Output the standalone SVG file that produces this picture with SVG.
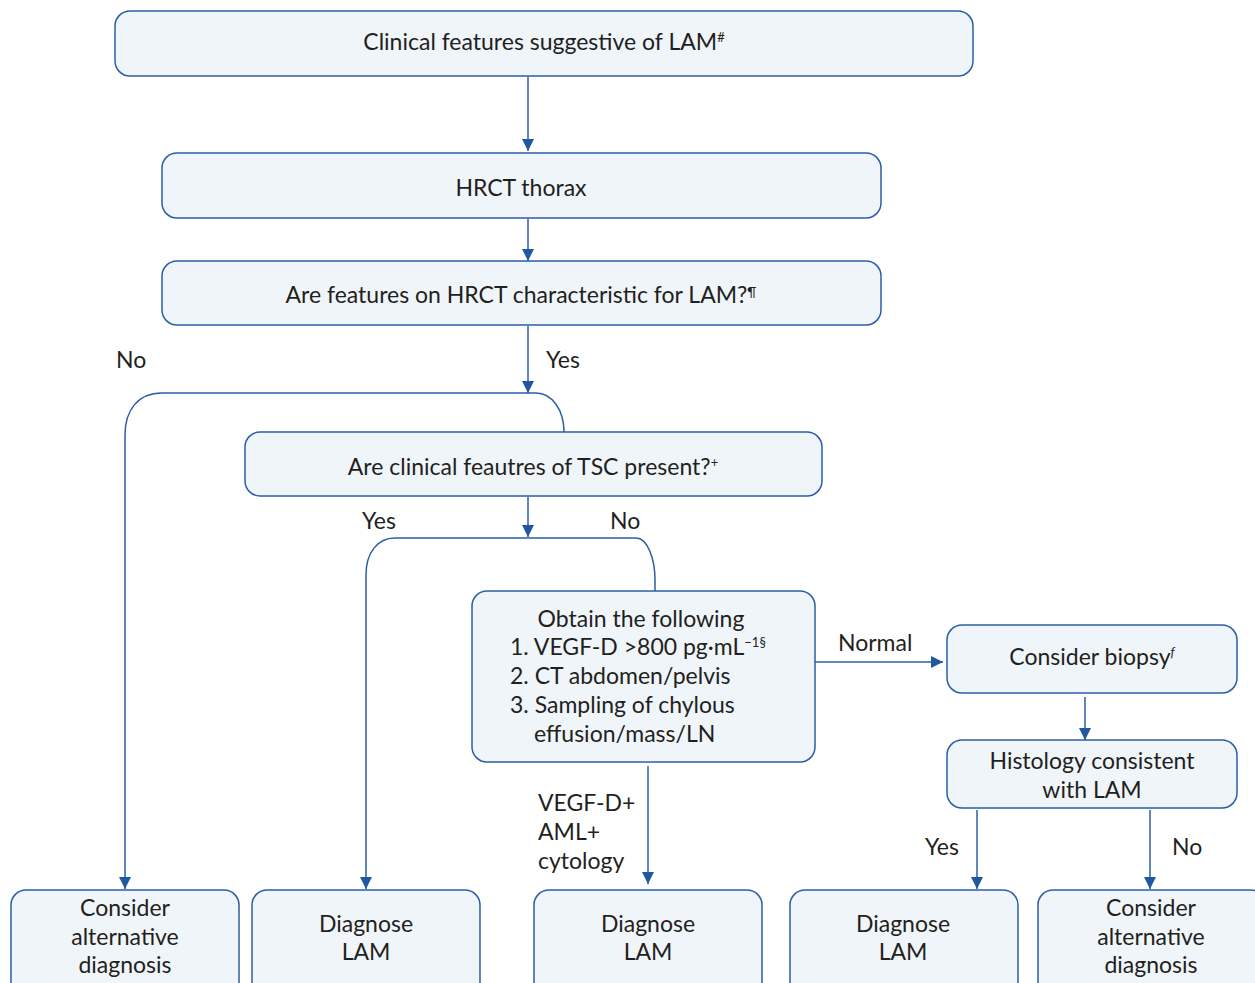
<svg xmlns="http://www.w3.org/2000/svg" width="1255" height="983" viewBox="0 0 1255 983">
<defs>
<marker id="ah" viewBox="0 0 10 10" refX="10" refY="5" markerWidth="12" markerHeight="12" markerUnits="userSpaceOnUse" orient="auto">
<path d="M0,0 L10,5 L0,10 z" fill="#1f58a0"/>
</marker>
<style>
.box{fill:#f0f5fa;stroke:#2a5ea8;stroke-width:1.5}
.t{font-family:Lato,"Noto Sans",sans-serif;font-size:23px;fill:#231f20;text-anchor:middle}
.l{font-family:Lato,"Noto Sans",sans-serif;font-size:23px;fill:#231f20}
.sup{font-size:13px}
.c{fill:none;stroke:#2a5ea8;stroke-width:1.5}
</style>
</defs>
<rect width="1255" height="983" fill="#ffffff"/>
<g id="connectors">
<line class="c" x1="528" y1="77" x2="528" y2="151" marker-end="url(#ah)"/>
<line class="c" x1="528" y1="219" x2="528" y2="261" marker-end="url(#ah)"/>
<line class="c" x1="528" y1="326" x2="528" y2="393" marker-end="url(#ah)"/>
<path class="c" d="M564,432 C564,410 552,393 536,393 L162,393 C138,393 125,410 125,435 L125,889" marker-end="url(#ah)"/>
<line class="c" x1="528" y1="497" x2="528" y2="537" marker-end="url(#ah)"/>
<path class="c" d="M655,591 L655,580 C655,560 648,538 636,538 L395,538 C378,538 366,552 366,575 L366,889" marker-end="url(#ah)"/>
<line class="c" x1="815" y1="662" x2="943" y2="662" marker-end="url(#ah)"/>
<line class="c" x1="1085" y1="697" x2="1085" y2="740" marker-end="url(#ah)"/>
<line class="c" x1="648" y1="766" x2="648" y2="884" marker-end="url(#ah)"/>
<line class="c" x1="977" y1="810" x2="977" y2="889" marker-end="url(#ah)"/>
<line class="c" x1="1150" y1="810" x2="1150" y2="889" marker-end="url(#ah)"/>
<text class="l" x="116" y="368">No</text>
<text class="l" x="546" y="368">Yes</text>
<text class="l" x="362" y="529">Yes</text>
<text class="l" x="610" y="529">No</text>
<text class="l" x="838" y="651">Normal</text>
<text class="l" x="538" y="811">VEGF-D+</text>
<text class="l" x="538" y="840">AML+</text>
<text class="l" x="538" y="869">cytology</text>
<text class="l" x="925" y="855">Yes</text>
<text class="l" x="1172" y="855">No</text>
</g>
<g id="n1">
<rect class="box" x="115" y="11" width="858" height="65" rx="15"/>
<text class="t" x="544" y="50">Clinical features suggestive of LAM<tspan class="sup" dy="-8">#</tspan></text>
</g>
<g id="n2">
<rect class="box" x="162" y="153" width="719" height="65" rx="15"/>
<text class="t" x="521" y="196">HRCT thorax</text>
</g>
<g id="n3">
<rect class="box" x="162" y="261" width="719" height="64" rx="15"/>
<text class="t" x="521" y="303">Are features on HRCT characteristic for LAM?<tspan class="sup" dy="-6">¶</tspan></text>
</g>
<g id="n4">
<rect class="box" x="245" y="432" width="577" height="64" rx="15"/>
<text class="t" x="533" y="475">Are clinical feautres of TSC present?<tspan class="sup" dy="-8">+</tspan></text>
</g>
<g id="n5">
<rect class="box" x="472" y="591" width="343" height="171" rx="15"/>
<text class="t" x="641" y="627">Obtain the following</text>
<text class="l" x="510" y="655">1. VEGF-D &gt;800 pg·mL<tspan class="sup" dy="-8">−1§</tspan></text>
<text class="l" x="510" y="684">2. CT abdomen/pelvis</text>
<text class="l" x="510" y="713">3. Sampling of chylous</text>
<text class="l" x="534" y="742">effusion/mass/LN</text>
</g>
<g id="n6">
<rect class="box" x="947" y="625" width="290" height="68" rx="15"/>
<text class="t" x="1092" y="665">Consider biopsy<tspan class="sup" dy="-8" font-style="italic">f</tspan></text>
</g>
<g id="n7">
<rect class="box" x="947" y="740" width="290" height="68" rx="15"/>
<text class="t" x="1092" y="769">Histology consistent</text>
<text class="t" x="1092" y="798">with LAM</text>
</g>
<g id="b1">
<rect class="box" x="11" y="890" width="228" height="110" rx="15"/>
<text class="t" x="125" y="916">Consider</text>
<text class="t" x="125" y="945">alternative</text>
<text class="t" x="125" y="973">diagnosis</text>
</g>
<g id="b2">
<rect class="box" x="252" y="890" width="228" height="110" rx="15"/>
<text class="t" x="366" y="932">Diagnose</text>
<text class="t" x="366" y="960">LAM</text>
</g>
<g id="b3">
<rect class="box" x="534" y="890" width="228" height="110" rx="15"/>
<text class="t" x="648" y="932">Diagnose</text>
<text class="t" x="648" y="960">LAM</text>
</g>
<g id="b4">
<rect class="box" x="790" y="890" width="228" height="110" rx="15"/>
<text class="t" x="903" y="932">Diagnose</text>
<text class="t" x="903" y="960">LAM</text>
</g>
<g id="b5">
<rect class="box" x="1038" y="890" width="228" height="110" rx="15"/>
<text class="t" x="1151" y="916">Consider</text>
<text class="t" x="1151" y="945">alternative</text>
<text class="t" x="1151" y="973">diagnosis</text>
</g>
</svg>
